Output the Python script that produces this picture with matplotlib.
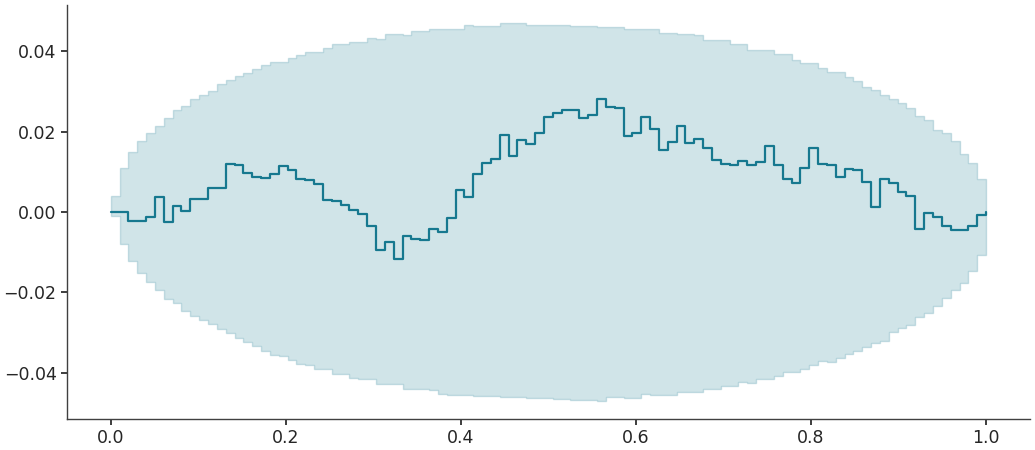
import numpy as np
import matplotlib
matplotlib.use("Agg")
import matplotlib.pyplot as plt
import seaborn as sns

# ---- data ----
n_points = 100
t_grid = np.linspace(0.0, 1.0, n_points)

path_values = [
    0.0, 0.0, -0.0022, -0.0022, -0.0012, 0.0036, -0.0024, 0.0016, 0.0003, 0.0033,
    0.0033, 0.0060, 0.0060, 0.0120, 0.0118, 0.0098, 0.0088, 0.0085, 0.0095, 0.0114,
    0.0104, 0.0083, 0.0080, 0.0070, 0.0030, 0.0027, 0.0017, 0.0006, -0.0004, -0.0034,
    -0.0095, -0.0076, -0.0118, -0.0060, -0.0068, -0.0070, -0.0042, -0.0050, -0.0014, 0.0055,
    0.0036, 0.0095, 0.0122, 0.0132, 0.0192, 0.0140, 0.0179, 0.0170, 0.0197, 0.0236,
    0.0247, 0.0254, 0.0254, 0.0234, 0.0242, 0.0281, 0.0262, 0.0258, 0.0189, 0.0197,
    0.0236, 0.0207, 0.0154, 0.0174, 0.0214, 0.0172, 0.0182, 0.0160, 0.0130, 0.0120,
    0.0118, 0.0127, 0.0118, 0.0125, 0.0165, 0.0116, 0.0083, 0.0073, 0.0110, 0.0160,
    0.0120, 0.0118, 0.0088, 0.0108, 0.0104, 0.0075, 0.0012, 0.0082, 0.0073, 0.0050,
    0.0040, -0.0042, -0.0002, -0.0012, -0.0035, -0.0044, -0.0044, -0.0036, -0.0007, 0.0,
]

band_upper = [
    0.0039, 0.0109, 0.0148, 0.0176, 0.0196, 0.0215, 0.0234, 0.0253, 0.0263, 0.0281,
    0.0290, 0.0301, 0.0318, 0.0328, 0.0338, 0.0345, 0.0355, 0.0365, 0.0373, 0.0373,
    0.0382, 0.0390, 0.0399, 0.0399, 0.0407, 0.0417, 0.0417, 0.0424, 0.0424, 0.0434,
    0.0431, 0.0442, 0.0442, 0.0440, 0.0449, 0.0449, 0.0456, 0.0456, 0.0455, 0.0455,
    0.0464, 0.0462, 0.0462, 0.0462, 0.0469, 0.0469, 0.0469, 0.0466, 0.0466, 0.0466,
    0.0464, 0.0464, 0.0462, 0.0462, 0.0462, 0.0460, 0.0460, 0.0460, 0.0456, 0.0456,
    0.0456, 0.0454, 0.0445, 0.0445, 0.0442, 0.0442, 0.0440, 0.0429, 0.0429, 0.0427,
    0.0417, 0.0417, 0.0404, 0.0404, 0.0404, 0.0393, 0.0393, 0.0379, 0.0370, 0.0370,
    0.0357, 0.0348, 0.0348, 0.0335, 0.0325, 0.0312, 0.0303, 0.0292, 0.0281, 0.0270,
    0.0258, 0.0238, 0.0228, 0.0205, 0.0196, 0.0176, 0.0143, 0.0123, 0.0082, 0.0082,
]

band_lower = [
    -0.0011, -0.0080, -0.0123, -0.0152, -0.0175, -0.0195, -0.0217, -0.0227, -0.0247, -0.0259,
    -0.0270, -0.0280, -0.0291, -0.0301, -0.0314, -0.0324, -0.0334, -0.0346, -0.0356, -0.0359,
    -0.0369, -0.0378, -0.0381, -0.0391, -0.0391, -0.0402, -0.0402, -0.0413, -0.0416, -0.0416,
    -0.0427, -0.0427, -0.0427, -0.0441, -0.0441, -0.0441, -0.0443, -0.0452, -0.0455, -0.0455,
    -0.0455, -0.0458, -0.0458, -0.0458, -0.0460, -0.0460, -0.0460, -0.0463, -0.0463, -0.0463,
    -0.0465, -0.0465, -0.0468, -0.0468, -0.0468, -0.0470, -0.0460, -0.0460, -0.0463, -0.0463,
    -0.0453, -0.0455, -0.0455, -0.0455, -0.0448, -0.0448, -0.0447, -0.0441, -0.0441, -0.0433,
    -0.0433, -0.0423, -0.0426, -0.0416, -0.0416, -0.0408, -0.0398, -0.0398, -0.0391, -0.0381,
    -0.0371, -0.0373, -0.0363, -0.0353, -0.0346, -0.0336, -0.0326, -0.0320, -0.0299, -0.0289,
    -0.0281, -0.0261, -0.0252, -0.0234, -0.0214, -0.0195, -0.0177, -0.0147, -0.0108, -0.0108,
]

x_ticks = [0.0, 0.2, 0.4, 0.6, 0.8, 1.0]
y_ticks = [-0.04, -0.02, 0.00, 0.02, 0.04]

# ---- style ----
sns.set_theme(style="ticks")
plt.rcParams["font.family"] = ["DejaVu Sans"]

line_color = "#16788f"

fig = plt.figure(figsize=(10.35, 4.5), dpi=100)
ax = fig.add_axes([0.0647, 0.069, 0.9303, 0.92])

ax.fill_between(t_grid, band_lower, band_upper, step="post",
                facecolor=line_color, alpha=0.2, edgecolor=line_color,
                linewidth=1.0)
ax.step(t_grid, path_values, where="post", color=line_color, linewidth=1.6)

ax.set_xticks(x_ticks)
ax.set_yticks(y_ticks)
ax.set_xticklabels([f"{v:.1f}" for v in x_ticks])
ax.set_yticklabels([f"{v:.2f}".replace("-", "\u2212") for v in y_ticks])
ax.tick_params(axis="both", labelsize=12.5, colors="#262626", length=4)
ax.set_xlim(-0.05, 1.05)
ax.set_ylim(-0.0515, 0.0515)
for side in ("top", "right"):
    ax.spines[side].set_visible(False)
for side in ("left", "bottom"):
    ax.spines[side].set_color("#404040")
    ax.spines[side].set_linewidth(1.0)

fig.savefig("out.png", dpi=100)
